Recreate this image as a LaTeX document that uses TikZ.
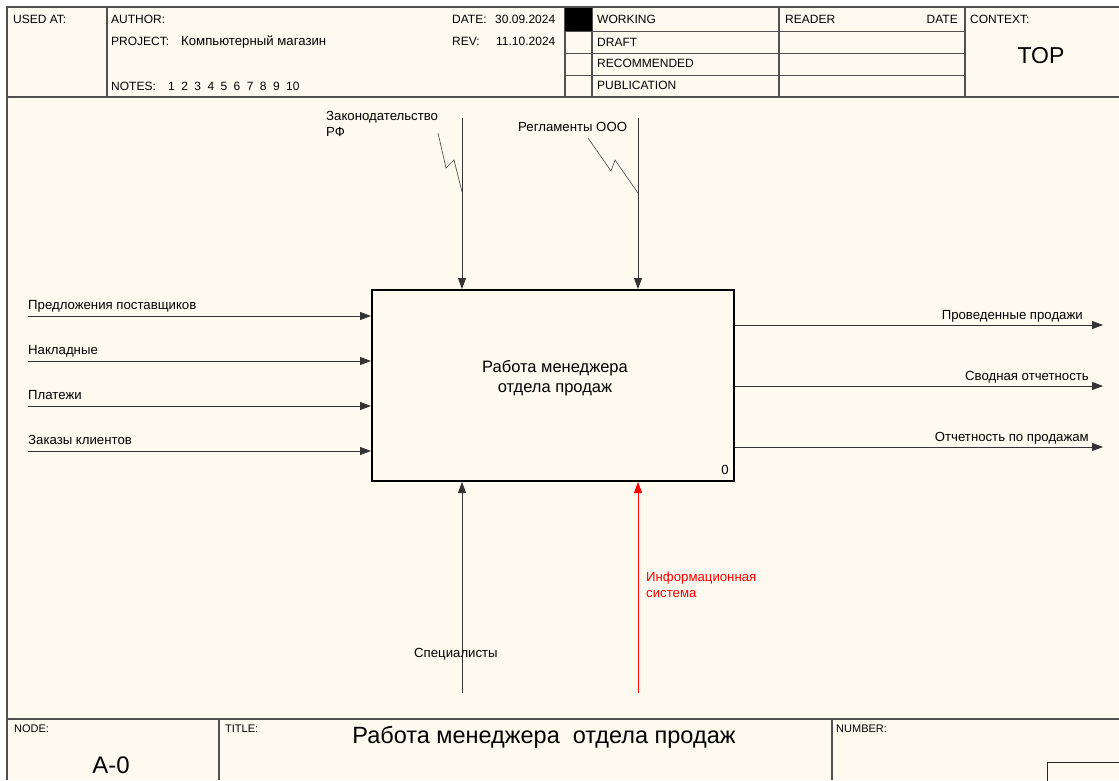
\documentclass[tikz,border=0pt]{standalone}
\usepackage{fontspec}
\setmainfont{Liberation Sans}
\usetikzlibrary{arrows.meta, positioning}
\definecolor{paper}{RGB}{255,250,240}
\definecolor{frameline}{RGB}{80,80,80}
\definecolor{mechred}{RGB}{255,0,0}
\newcommand{\fsz}[1]{\fontsize{#1}{16}\selectfont}

\begin{document}
\begin{tikzpicture}[
  x=1pt, y=-1pt,
  lbl/.style={inner sep=0pt, font=\fsz{13.2}},
  hdr/.style={inner sep=0pt, font=\fsz{12}},
  small/.style={inner sep=0pt, font=\fsz{11}},
  rule/.style={draw=frameline, line width=1.4pt},
  thinrule/.style={draw=frameline, line width=1pt},
  arr/.style={-{Triangle[length=11pt,width=8pt]}, draw=black!80, line width=0.8pt},
  zig/.style={draw=black!75, line width=0.6pt},
  fbox/.style={draw, line width=2pt, minimum width=362pt, minimum height=191pt,
    inner sep=0pt}
]
\useasboundingbox (0,0) rectangle (1119,780);
\fill[white] (0,0) rectangle (1119,780);
\fill[paper] (8,8) rectangle (1119,780);

% frame and header
\draw[frameline, line width=2.5pt] (7,780) -- (7,7) -- (1119,7);
\draw[rule] (8,97) -- (1119,97);
\foreach \x in {107, 565, 592, 779, 965}
  \draw[rule] (\x,8) -- (\x,97);
\foreach \y in {31, 53, 75}
  \draw[thinrule] (565,\y) -- (965,\y);
\fill[black] (565,8) rectangle (592,31);

\node[hdr, anchor=base west] (usedat) at (13,23) {USED AT:};
\node[hdr, anchor=base west] (author) at (111,23) {AUTHOR:};
\node[hdr, anchor=base west] (project) at (111,45) {PROJECT:};
\node[hdr, anchor=base west, font=\fsz{13.2}] (projname) at (181,45) {Компьютерный магазин};
\node[hdr, anchor=base west] (notes) at (111,90) {NOTES:};
\foreach \i in {1,...,10}
  \node[hdr, anchor=base west] (note\i) at ({168+13.1*(\i-1)},90) {\i};
\node[hdr, anchor=base west] (date) at (452,23) {DATE:};
\node[hdr, anchor=base west] (dateval) at (495,23) {30.09.2024};
\node[hdr, anchor=base west] (rev) at (452,45) {REV:};
\node[hdr, anchor=base west] (revval) at (496,45) {11.10.2024};
\node[hdr, anchor=base west] (working) at (597,23) {WORKING};
\node[hdr, anchor=base west] (draft) at (597,46) {DRAFT};
\node[hdr, anchor=base west] (recommended) at (597,67) {RECOMMENDED};
\node[hdr, anchor=base west] (publication) at (597,89) {PUBLICATION};
\node[hdr, anchor=base west] (reader) at (785,23) {READER};
\node[hdr, anchor=base east] (readerdate) at (958,23) {DATE};
\node[hdr, anchor=base west] (context) at (970,23) {CONTEXT:};
\node[inner sep=0pt, font=\fsz{23}, anchor=base] (topctx) at (1041,63) {TOP};

% function box
\node[fbox, anchor=north west] (a0) at (371,289) {};
\node[align=center, inner sep=0pt, font=\fontsize{16.5}{20}\selectfont] (a0name)
  at (555,378) {Работа менеджера\\ отдела продаж};
\node[lbl, anchor=base east] (a0num) at (729,474) {0};

% inputs
\foreach \n/\y/\t in {1/316/Предложения поставщиков, 2/361/Накладные,
                      3/406/Платежи, 4/451/Заказы клиентов} {
  \coordinate (in\n) at (28,\y);
  \draw[arr] (in\n) -- (in\n -| a0.west);
  \node[lbl, anchor=base west] (in\n lbl) at (28,\y-7) {\t};
}

% outputs
\foreach \n/\y/\x/\t in {1/325/1083/Проведенные продажи, 2/386/1089/Сводная отчетность,
                         3/447/1089/Отчетность по продажам} {
  \coordinate (out\n) at (1103,\y);
  \draw[arr] (out\n -| a0.east) -- (out\n);
  \node[lbl, anchor=base east] (out\n lbl) at (\x,\y-6) {\t};
}

% controls
\coordinate (ctl1) at (462,118);
\coordinate (ctl2) at (638,118);
\draw[arr] (ctl1) -- (ctl1 |- a0.north);
\draw[arr] (ctl2) -- (ctl2 |- a0.north);
\node[lbl, anchor=north west, align=left] (ctl1lbl) at (326,111) {Законодательство\\РФ};
\node[lbl, anchor=base west] (ctl2lbl) at (518,131) {Регламенты ООО};
\draw[zig] (438,133) -- (446,168) -- (454,160) -- (462,192);
\draw[zig] (588,138) -- (611,171) -- (615,160) -- (638,193);

% mechanisms
\coordinate (mec1) at (462,693);
\coordinate (mec2) at (638,693);
\draw[arr] (mec1) -- (mec1 |- a0.south);
\draw[arr, draw=mechred, fill=mechred] (mec2) -- (mec2 |- a0.south);
\node[lbl, anchor=base west] (mec1lbl) at (414,657) {Специалисты};
\node[lbl, anchor=north west, align=left, text=mechred] (mec2lbl) at (646,572)
  {Информационная\\система};

% footer
\draw[rule] (8,719) -- (1119,719);
\draw[rule] (219,719) -- (219,780);
\draw[rule] (832,719) -- (832,780);
\draw[black!85, line width=1pt] (1047,790) -- (1047,762) -- (1125,762);
\node[small, anchor=base west] (nodelbl) at (14,732) {NODE:};
\node[inner sep=0pt, font=\fsz{24}, anchor=base] (nodenum) at (111,773) {A-0};
\node[small, anchor=base west] (titlelbl) at (225,732) {TITLE:};
\node[inner sep=0pt, font=\fsz{23.5}, anchor=base] (titletext) at (544,743)
  {Работа менеджера\ \ отдела продаж};
\node[small, anchor=base west] (numberlbl) at (836,732) {NUMBER:};
\end{tikzpicture}
\end{document}
